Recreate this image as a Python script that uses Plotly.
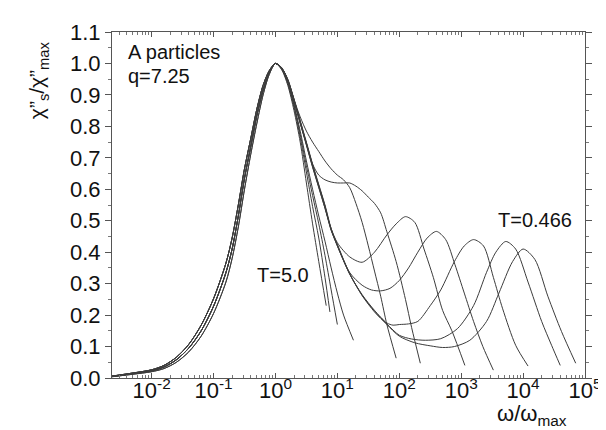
import plotly.graph_objects as go

# ---- data: log10(omega/omega_max) and chi''/chi''_max ----
rise_lx = [-2.64, -2.3, -2.0, -1.8, -1.6, -1.4, -1.2, -1.0, -0.8, -0.7, -0.6, -0.5, -0.4, -0.3, -0.2, -0.1, 0.0]
rise_lo = [0.004, 0.012, 0.020, 0.030, 0.050, 0.083, 0.133, 0.205, 0.305, 0.38, 0.48, 0.60, 0.71, 0.81, 0.90, 0.965, 1.0]
rise_mid = [0.005, 0.014, 0.023, 0.035, 0.058, 0.095, 0.15, 0.228, 0.335, 0.41, 0.515, 0.635, 0.735, 0.835, 0.915, 0.97, 1.0]
rise_hi = [0.006, 0.016, 0.026, 0.040, 0.066, 0.107, 0.168, 0.252, 0.365, 0.445, 0.55, 0.665, 0.76, 0.855, 0.93, 0.977, 1.0]

# high-frequency sides, one per temperature (T=5.0 ... T=0.466)
c1_lx = [0.1, 0.2, 0.3, 0.4, 0.5, 0.6, 0.7, 0.82]
c1_y = [0.98, 0.93, 0.85, 0.75, 0.62, 0.49, 0.37, 0.23]
c2_lx = [0.1, 0.2, 0.3, 0.4, 0.5, 0.6, 0.7, 0.8, 0.88]
c2_y = [0.982, 0.935, 0.86, 0.765, 0.655, 0.545, 0.445, 0.32, 0.21]
c3_lx = [0.1, 0.2, 0.3, 0.4, 0.5, 0.6, 0.7, 0.8, 0.9, 1.0]
c3_y = [0.983, 0.938, 0.866, 0.775, 0.675, 0.58, 0.49, 0.39, 0.28, 0.17]
c4_lx = [0.1, 0.2, 0.3, 0.4, 0.5, 0.6, 0.7, 0.8, 0.9, 1.0, 1.1, 1.26]
c4_y = [0.984, 0.94, 0.87, 0.785, 0.69, 0.6, 0.515, 0.435, 0.35, 0.27, 0.2, 0.12]
c5_lx = [0.1, 0.2, 0.3, 0.4, 0.5, 0.6, 0.7, 0.8, 0.9, 1.0, 1.1, 1.2, 1.3, 1.4, 1.5, 1.6, 1.7, 1.8, 1.95]
c5_y = [0.985, 0.95, 0.885, 0.83, 0.785, 0.75, 0.72, 0.69, 0.665, 0.645, 0.63, 0.605, 0.555, 0.495, 0.42, 0.34, 0.26, 0.17, 0.063]
c6_lx = [0.1, 0.2, 0.3, 0.4, 0.5, 0.6, 0.7, 0.8, 0.9, 1.0, 1.1, 1.2, 1.3, 1.4, 1.5, 1.6, 1.7, 1.8, 1.95, 2.1, 2.2, 2.34]
c6_y = [0.985, 0.945, 0.88, 0.81, 0.745, 0.68, 0.645, 0.63, 0.623, 0.62, 0.62, 0.62, 0.61, 0.595, 0.575, 0.555, 0.525, 0.465, 0.37, 0.25, 0.16, 0.047]
c7_lx = [0.1, 0.2, 0.3, 0.4, 0.5, 0.6, 0.7, 0.8, 0.9, 1.0, 1.2, 1.4, 1.6, 1.8, 1.95, 2.1, 2.25, 2.4, 2.55, 2.7, 2.85, 3.06]
c7_y = [0.985, 0.945, 0.88, 0.81, 0.74, 0.67, 0.605, 0.54, 0.475, 0.43, 0.385, 0.368, 0.40, 0.455, 0.49, 0.513, 0.495, 0.41, 0.32, 0.215, 0.15, 0.04]
c8_lx = [0.1, 0.2, 0.3, 0.4, 0.5, 0.6, 0.7, 0.8, 0.9, 1.0, 1.2, 1.4, 1.55, 1.7, 1.85, 2.0, 2.15, 2.3, 2.45, 2.6, 2.75, 2.9, 3.05, 3.2, 3.35, 3.52]
c8_y = [0.985, 0.945, 0.882, 0.812, 0.742, 0.672, 0.607, 0.54, 0.47, 0.425, 0.335, 0.295, 0.28, 0.277, 0.285, 0.31, 0.35, 0.40, 0.445, 0.466, 0.44, 0.36, 0.27, 0.18, 0.10, 0.025]
c9_lx = [0.1, 0.2, 0.3, 0.4, 0.5, 0.6, 0.7, 0.8, 0.9, 1.0, 1.2, 1.4, 1.6, 1.8, 1.9, 2.0, 2.15, 2.3, 2.5, 2.67, 2.89, 3.05, 3.2, 3.36, 3.52, 3.67, 3.88, 4.08]
c9_y = [0.986, 0.946, 0.884, 0.815, 0.745, 0.675, 0.61, 0.545, 0.47, 0.42, 0.33, 0.265, 0.215, 0.175, 0.168, 0.17, 0.172, 0.18, 0.23, 0.28, 0.37, 0.42, 0.44, 0.42, 0.32, 0.22, 0.104, 0.038]
c10_lx = [0.1, 0.2, 0.3, 0.4, 0.5, 0.6, 0.7, 0.8, 0.9, 1.0, 1.2, 1.4, 1.6, 1.8, 2.0, 2.2, 2.42, 2.67, 2.94, 3.2, 3.41, 3.56, 3.72, 3.88, 4.08, 4.3, 4.46, 4.6]
c10_y = [0.986, 0.947, 0.885, 0.816, 0.747, 0.677, 0.612, 0.547, 0.472, 0.42, 0.33, 0.263, 0.213, 0.172, 0.136, 0.124, 0.12, 0.125, 0.157, 0.23, 0.336, 0.40, 0.434, 0.41, 0.305, 0.18, 0.104, 0.04]
c11_lx = [0.1, 0.2, 0.3, 0.4, 0.5, 0.6, 0.7, 0.8, 0.9, 1.0, 1.2, 1.4, 1.6, 1.8, 2.0, 2.25, 2.51, 2.7, 2.89, 3.14, 3.41, 3.61, 3.83, 4.0, 4.19, 4.4, 4.62, 4.85]
c11_y = [0.987, 0.948, 0.887, 0.818, 0.75, 0.68, 0.615, 0.55, 0.475, 0.422, 0.332, 0.262, 0.21, 0.17, 0.133, 0.112, 0.102, 0.097, 0.1, 0.12, 0.18, 0.27, 0.37, 0.41, 0.377, 0.26, 0.148, 0.047]

curves = [
    (rise_lo, c1_lx, c1_y), (rise_lo, c2_lx, c2_y), (rise_mid, c3_lx, c3_y),
    (rise_mid, c4_lx, c4_y), (rise_hi, c5_lx, c5_y), (rise_mid, c6_lx, c6_y),
    (rise_hi, c7_lx, c7_y), (rise_mid, c8_lx, c8_y), (rise_hi, c9_lx, c9_y),
    (rise_mid, c10_lx, c10_y), (rise_hi, c11_lx, c11_y),
]

xtick_exp = [-2, -1, 0, 1, 2, 3, 4, 5]
ytick_vals = [0.0, 0.1, 0.2, 0.3, 0.4, 0.5, 0.6, 0.7, 0.8, 0.9, 1.0, 1.1]

FONT = "Liberation Sans, Arial, sans-serif"
LINE = "#3c3c3c"

fig = go.Figure()
for rise, lx, ys in curves:
    xs = [10 ** v for v in rise_lx + lx]
    fig.add_trace(go.Scatter(x=xs, y=rise + ys, mode="lines",
                             line=dict(color=LINE, width=1, shape="spline", smoothing=0.8),
                             showlegend=False, hoverinfo="skip"))

minor_x = [m * 10 ** e for e in range(-3, 5) for m in range(2, 10)]

fig.update_xaxes(
    type="log", range=[-2.64, 5.0],
    tickvals=[10 ** e for e in xtick_exp],
    ticktext=[f"10<sup>{e}</sup>" for e in xtick_exp],
    ticks="inside", ticklen=5, tickcolor="#555",
    minor=dict(tickvals=minor_x, ticks="inside", ticklen=3, tickcolor="#777"),
    showline=True, linecolor="#555", linewidth=1, mirror="allticks",
    showgrid=False, zeroline=False,
    ticklabelstandoff=-7,
    tickfont=dict(family=FONT, size=22, color="#111"),
)
fig.update_yaxes(
    range=[0, 1.1],
    tickvals=ytick_vals, ticktext=[f"{v:.1f}" for v in ytick_vals],
    ticks="outside", ticklen=6, tickcolor="#555",
    minor=dict(dtick=0.05, ticks="outside", ticklen=3, tickcolor="#777"),
    showline=True, linecolor="#555", linewidth=1, mirror="allticks",
    showgrid=False, zeroline=False,
    tickfont=dict(family=FONT, size=22, color="#111"),
)

ann_font = dict(family=FONT, size=20, color="#111")
fig.add_annotation(text="A particles", xref="paper", yref="paper", x=0.029, y=0.943,
                   xanchor="left", yanchor="middle", showarrow=False, font=ann_font)
fig.add_annotation(text="q=7.25", xref="paper", yref="paper", x=0.029, y=0.874,
                   xanchor="left", yanchor="middle", showarrow=False, font=ann_font)
fig.add_annotation(text="T=5.0", xref="paper", yref="paper", x=0.361, y=0.297,
                   xanchor="center", yanchor="middle", showarrow=False, font=ann_font)
fig.add_annotation(text="T=0.466", xref="paper", yref="paper", x=0.895, y=0.457,
                   xanchor="center", yanchor="middle", showarrow=False, font=ann_font)
fig.add_annotation(text="ω/ω<sub>max</sub>", xref="paper", yref="paper", x=0.889, y=-0.108,
                   xanchor="center", yanchor="middle", showarrow=False,
                   font=dict(family=FONT, size=22, color="#111"))
fig.add_annotation(text="χ”<sub>s</sub>/χ”<sub>max</sub>", xref="paper", yref="paper",
                   x=-0.155, y=0.86, xanchor="center", yanchor="middle", textangle=-90,
                   showarrow=False, font=dict(family=FONT, size=21, color="#111"))

fig.update_layout(
    width=606, height=430,
    margin=dict(l=104, r=15, t=20, b=60),
    paper_bgcolor="white", plot_bgcolor="white",
)
fig.write_html("out.html")
